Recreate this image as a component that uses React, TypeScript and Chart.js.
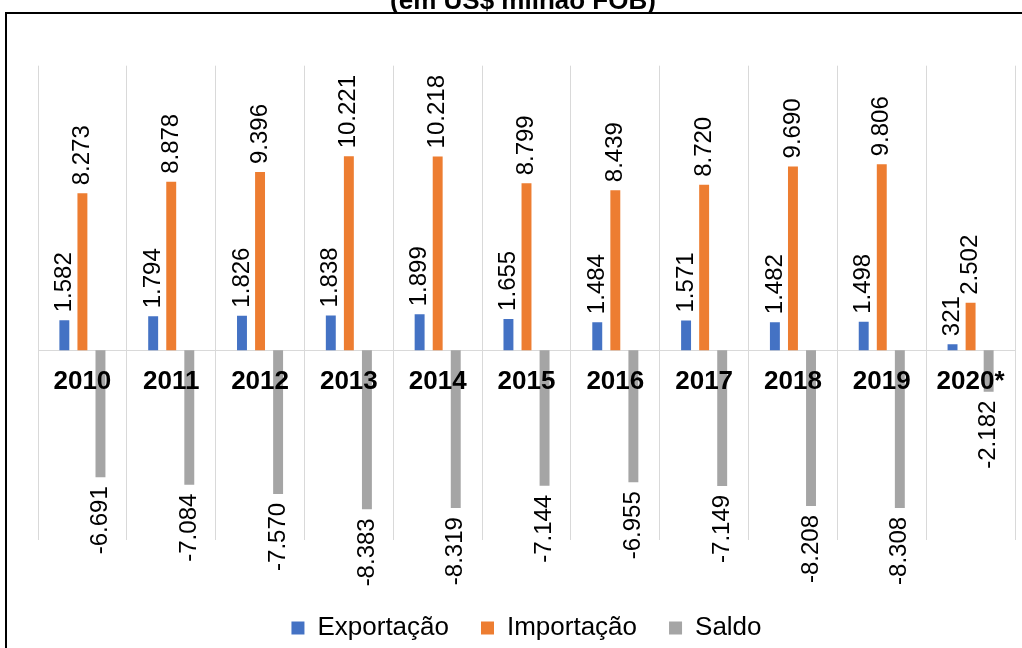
import React, { useEffect, useRef } from 'react';
import { Chart, registerables } from 'chart.js';

Chart.register(...registerables);

// ---- data ----
const categories = ['2010', '2011', '2012', '2013', '2014', '2015', '2016', '2017', '2018', '2019', '2020*'];
const exportacao = [1582, 1794, 1826, 1838, 1899, 1655, 1484, 1571, 1482, 1498, 321];
const importacao = [8273, 8878, 9396, 10221, 10218, 8799, 8439, 8720, 9690, 9806, 2502];
const saldo = [-6691, -7084, -7570, -8383, -8319, -7144, -6955, -7149, -8208, -8308, -2182];
const seriesNames = ['Exportação', 'Importação', 'Saldo'];
const seriesColors = ['#4472C4', '#ED7D31', '#A5A5A5'];
const titleText = '(em US$ milhão FOB)';
const yMin = -10000;
const yMax = 15000;

// ---- layout constants ----
const OY = 20; // canvas extends above the viewport (title is cropped)
const CW = 1040;
const CH = 690;
const FONT = '"Liberation Sans", Arial, sans-serif';

function fmt(v: number): string {
  const s = Math.abs(v).toString().replace(/\B(?=(\d{3})+(?!\d))/g, '.');
  return (v < 0 ? '-' : '') + s;
}

const frameTitlePlugin = {
  id: 'frameTitle',
  beforeDraw(chart: any) {
    const ctx = chart.ctx;
    ctx.save();
    ctx.fillStyle = '#ffffff';
    ctx.fillRect(0, 0, chart.width, chart.height);
    ctx.strokeStyle = '#000000';
    ctx.lineWidth = 2;
    ctx.strokeRect(6, 13 + OY, 1100, 800);
    ctx.fillStyle = '#000000';
    ctx.font = `bold 26px ${FONT}`;
    ctx.textAlign = 'center';
    ctx.textBaseline = 'alphabetic';
    ctx.fillText(titleText, 523, 8.5 + OY);
    ctx.restore();
  },
};

const valueLabelPlugin = {
  id: 'valueLabels',
  afterDatasetsDraw(chart: any) {
    const ctx = chart.ctx;
    ctx.save();
    ctx.font = `24px ${FONT}`;
    ctx.fillStyle = '#000000';
    ctx.textBaseline = 'middle';
    chart.data.datasets.forEach((ds: any, di: number) => {
      const meta = chart.getDatasetMeta(di);
      meta.data.forEach((el: any, i: number) => {
        const v = ds.data[i] as number;
        const { x, y } = el.getProps(['x', 'y'], true);
        ctx.save();
        ctx.translate(x, y + (v >= 0 ? -8 : 9));
        ctx.rotate(-Math.PI / 2);
        ctx.textAlign = v >= 0 ? 'left' : 'right';
        ctx.fillText(fmt(v), 0, 0);
        ctx.restore();
      });
    });
    ctx.restore();
  },
};

export default function App() {
  const canvasRef = useRef<HTMLCanvasElement | null>(null);

  useEffect(() => {
    if (!canvasRef.current) return;
    const seriesData = [exportacao, importacao, saldo];
    const chart = new Chart(canvasRef.current, {
      type: 'bar',
      data: {
        labels: categories,
        datasets: seriesNames.map((name, k) => ({
          label: name,
          data: seriesData[k],
          backgroundColor: seriesColors[k],
          borderWidth: 0,
          categoryPercentage: 0.61,
          barPercentage: 0.55,
        })),
      },
      options: {
        animation: false,
        responsive: false,
        layout: {
          padding: { left: 38, right: CW - 1015, top: 65.7 + OY, bottom: 19 },
        },
        scales: {
          x: {
            position: { y: 0 } as any,
            offset: true,
            grid: { offset: true, color: '#d9d9d9', lineWidth: 1, drawTicks: false },
            border: { display: true, color: '#d9d9d9', width: 1 },
            ticks: {
              font: { family: FONT, size: 26, weight: 'bold' },
              color: '#000000',
              padding: 16,
              z: 1,
              maxRotation: 0,
              autoSkip: false,
            },
          },
          y: {
            display: false,
            min: yMin,
            max: yMax,
          },
        },
        plugins: {
          legend: {
            position: 'bottom',
            title: {
              display: true,
              text: '',
              font: { size: 10, lineHeight: 1 },
              padding: { top: 0, bottom: 33 },
            },
            labels: {
              font: { family: FONT, size: 26 },
              color: '#000000',
              boxWidth: 13,
              boxHeight: 13,
              padding: 32,
            },
          },
          tooltip: { enabled: false },
          title: { display: false },
        },
      } as any,
      plugins: [frameTitlePlugin, valueLabelPlugin],
    });
    return () => chart.destroy();
  }, []);

  return (
    <div
      style={{
        position: 'fixed',
        left: 0,
        top: 0,
        width: 1022,
        height: 648,
        overflow: 'hidden',
        background: '#ffffff',
      }}
    >
      <canvas
        ref={canvasRef}
        width={CW}
        height={CH}
        style={{ position: 'absolute', left: 0, top: -OY, width: CW, height: CH }}
      />
    </div>
  );
}
